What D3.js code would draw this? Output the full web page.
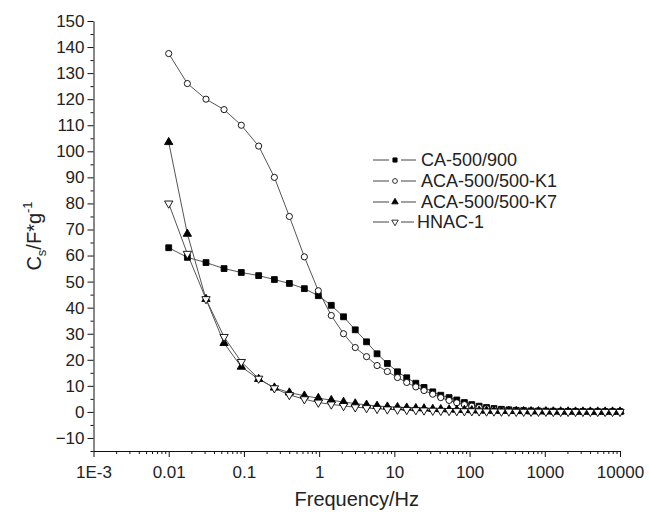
<!DOCTYPE html>
<html>
<head>
<meta charset="utf-8">
<script src="https://cdn.jsdelivr.net/npm/d3@7"></script>
<style>
  body { margin: 0; background: #fff; }
  svg { font-family: "Liberation Sans", Arial, sans-serif; }
</style>
</head>
<body>
<div id="chart"></div>
<script>
const width = 649, height = 516;

// frequencies (Hz) shared by all samples
const freq = [0.01, 0.0177, 0.0313, 0.0544, 0.0923, 0.157, 0.254, 0.402, 0.636, 0.975,
  1.45, 2.11, 3.02, 4.27, 5.89, 8.07, 11.0, 14.6, 19.3, 24.8,
  32.4, 41.4, 53.4, 67.6, 85.3, 107, 134, 168, 211, 265,
  333, 417, 524, 657, 824, 1034, 1297, 1627, 2042, 2562,
  3214, 4032, 5058, 6346, 7962, 10000];

const ca900 = [63.0, 59.3, 57.3, 55.0, 53.5, 52.3, 50.8, 49.3, 47.3, 44.6,
  40.9, 36.5, 31.5, 26.9, 22.3, 18.6, 15.4, 13.1, 11.0, 9.4,
  7.7, 6.4, 5.5, 4.6, 3.6, 2.8, 2.2, 1.7, 1.3, 1.0,
  0.8, 0.6, 0.5, 0.4, 0.35, 0.3, 0.25, 0.2, 0.2, 0.15,
  0.15, 0.1, 0.1, 0.1, 0.1, 0.1];

const acaK1 = [137.5, 126, 120, 116, 110, 102, 90, 75, 59.5, 46.5,
  37, 30, 24.7, 21.2, 17.8, 15.5, 13.2, 11.3, 9.6, 8.2,
  6.8, 5.5, 4.4, 3.5, 2.8, 2.2, 1.7, 1.3, 1.0, 0.8,
  0.6, 0.5, 0.4, 0.3, 0.3, 0.25, 0.2, 0.2, 0.15, 0.15,
  0.1, 0.1, 0.1, 0.1, 0.1, 0.1];

const acaK7 = [103.5, 68.3, 43.3, 26.4, 17.3, 12.6, 9.3, 7.4, 6.2, 5.3,
  4.5, 3.8, 3.2, 2.7, 2.3, 2.0, 1.8, 1.6, 1.4, 1.3,
  1.1, 1.0, 0.9, 0.8, 0.7, 0.6, 0.5, 0.45, 0.4, 0.35,
  0.3, 0.3, 0.25, 0.2, 0.2, 0.2, 0.15, 0.15, 0.15, 0.1,
  0.1, 0.1, 0.1, 0.1, 0.1, 0.1];

const hnac1 = [80, 60.7, 43.3, 28.8, 19.2, 12.8, 9.1, 6.5, 4.9, 3.6,
  2.9, 2.3, 1.8, 1.5, 1.2, 1.0, 0.9, 0.8, 0.7, 0.6,
  0.5, 0.45, 0.4, 0.35, 0.3, 0.3, 0.25, 0.2, 0.2, 0.15,
  0.15, 0.1, 0.1, 0.1, 0.1, 0.1, 0.05, 0.05, 0.05, 0.05,
  0.05, 0.05, 0.05, 0.05, 0.05, 0.05];

const seriesNames = ["CA-500/900", "ACA-500/500-K1", "ACA-500/500-K7", "HNAC-1"];
const seriesValues = [ca900, acaK1, acaK7, hnac1];

const xMajor = [0.001, 0.01, 0.1, 1, 10, 100, 1000, 10000];
const xMajorLabels = ["1E-3", "0.01", "0.1", "1", "10", "100", "1000", "10000"];

const x = d3.scaleLog().domain([0.001, 10000]).range([93.5, 620]);
const y = d3.scaleLinear().domain([-15, 150]).range([451, 21]);

const svg = d3.select("#chart").append("svg")
  .attr("width", width)
  .attr("height", height);

// marker styles per series
const markers = [
  { type: d3.symbolSquare, size: 34, fill: "#000", rot: 0 },
  { type: d3.symbolCircle, size: 30, fill: "#fff", rot: 0 },
  { type: d3.symbolTriangle, size: 30, fill: "#000", rot: 0 },
  { type: d3.symbolTriangle, size: 30, fill: "#fff", rot: 180 }
];

// x axis
const xMinor = [];
xMajor.slice(0, -1).forEach(d => { for (let k = 2; k < 10; k++) xMinor.push(d * k); });

svg.append("g")
  .attr("transform", `translate(0,${y(-15)})`)
  .call(d3.axisBottom(x).tickValues(xMinor).tickSize(3).tickFormat(""))
  .call(g => g.select(".domain").remove());

const xAxis = svg.append("g")
  .attr("transform", `translate(0,${y(-15)})`)
  .call(d3.axisBottom(x).tickValues(xMajor).tickSize(6).tickSizeOuter(0)
    .tickFormat((d, i) => xMajorLabels[i]));
xAxis.selectAll("text").attr("font-size", 17).attr("dy", "1.05em").attr("fill", "#222");

// y axis
const yMinor = d3.range(-15, 150, 10);
svg.append("g")
  .attr("transform", `translate(${x(0.001)},0)`)
  .call(d3.axisLeft(y).tickValues(yMinor).tickSize(3).tickFormat(""))
  .call(g => g.select(".domain").remove());

const yAxis = svg.append("g")
  .attr("transform", `translate(${x(0.001)},0)`)
  .call(d3.axisLeft(y).tickValues(d3.range(-10, 151, 10)).tickSize(6).tickSizeOuter(0));
yAxis.selectAll("text").attr("font-size", 17).attr("fill", "#222").attr("x", -9);

svg.selectAll(".domain, .tick line").attr("stroke", "#111");

// axis titles
svg.append("text")
  .attr("x", (x(0.001) + x(10000)) / 2)
  .attr("y", 506)
  .attr("text-anchor", "middle")
  .attr("font-size", 20)
  .attr("fill", "#222")
  .text("Frequency/Hz");

const yTitle = svg.append("text")
  .attr("transform", "translate(41,236) rotate(-90)")
  .attr("text-anchor", "middle")
  .attr("font-size", 20)
  .attr("fill", "#222");
yTitle.append("tspan").text("C");
yTitle.append("tspan").attr("font-size", 13).attr("dy", 5).text("s");
yTitle.append("tspan").attr("dy", -5).text("/F*g");
yTitle.append("tspan").attr("font-size", 13).attr("dy", -9).text("-1");

// series
const line = d3.line().x((d, i) => x(freq[i])).y(d => y(d));

seriesValues.forEach((vals, s) => {
  svg.append("path")
    .datum(vals)
    .attr("fill", "none")
    .attr("stroke", "#555")
    .attr("stroke-width", 1)
    .attr("d", line);
});

seriesValues.forEach((vals, s) => {
  const m = markers[s];
  svg.append("g").selectAll("path")
    .data(vals)
    .enter()
    .append("path")
    .attr("d", d3.symbol().type(m.type).size(m.size))
    .attr("transform", (d, i) => `translate(${x(freq[i])},${y(d)}) rotate(${m.rot})`)
    .attr("fill", m.fill)
    .attr("stroke", "#000")
    .attr("stroke-width", 0.9);
});

// legend
const legendY = [160, 181, 202, 222];
const legendTextX = [421, 421, 421, 417];
const legend = svg.append("g");
seriesNames.forEach((name, s) => {
  const m = markers[s];
  const ly = legendY[s];
  legend.append("line").attr("x1", 373).attr("x2", 389).attr("y1", ly).attr("y2", ly)
    .attr("stroke", "#444");
  legend.append("line").attr("x1", 401).attr("x2", legendTextX[s] === 421 ? 416 : 414)
    .attr("y1", ly).attr("y2", ly).attr("stroke", "#444");
  legend.append("path")
    .attr("d", d3.symbol().type(m.type).size(18))
    .attr("transform", `translate(395,${ly}) rotate(${m.rot})`)
    .attr("fill", m.fill)
    .attr("stroke", "#000")
    .attr("stroke-width", 0.8);
  legend.append("text")
    .attr("x", legendTextX[s])
    .attr("y", ly)
    .attr("dy", "0.35em")
    .attr("font-size", 18)
    .attr("fill", "#222")
    .text(name);
});
</script>
</body>
</html>
